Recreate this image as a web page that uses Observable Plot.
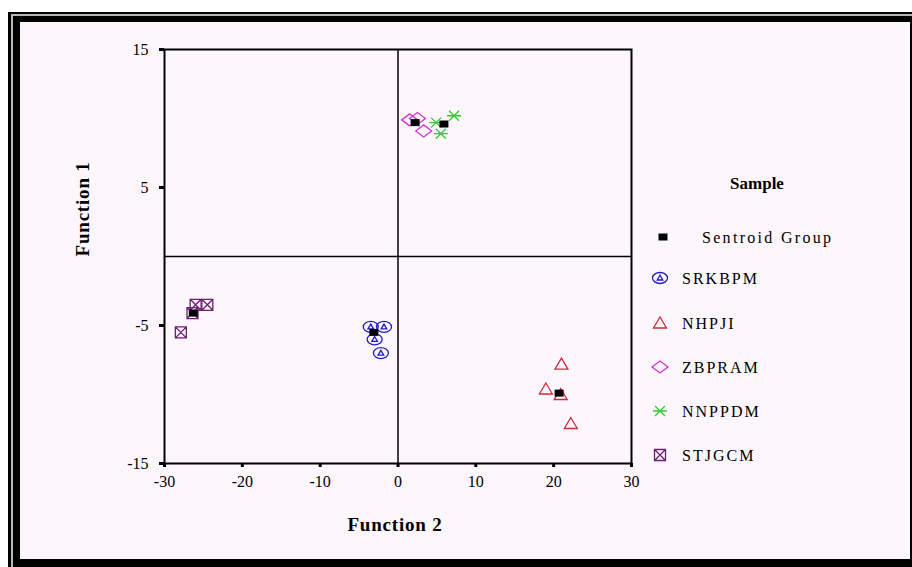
<!DOCTYPE html>
<html>
<head>
<meta charset="utf-8">
<script src="https://cdn.jsdelivr.net/npm/d3@7"></script>
<script src="https://cdn.jsdelivr.net/npm/@observablehq/plot@0.6"></script>
<style>
  body { margin: 0; background: #fff; }
  #wrap { position: relative; width: 912px; height: 567px; overflow: hidden; }
  #frame { position: absolute; left: 8px; top: 12px; width: 904px; height: 555px; background: #000; }
  #frame .stripe { position: absolute; left: 3px; top: 2px; right: 0; bottom: 0; border-left: 2px solid #b8b8b8; border-top: 2px solid #b8b8b8; }
  #inner { position: absolute; left: 12px; top: 10px; right: 2px; bottom: 8px; background: #fdf6fd; }
  #chart { position: absolute; left: 0; top: 0; }
</style>
</head>
<body>
<div id="wrap">
  <div id="frame"><div class="stripe"></div><div id="inner"></div></div>
  <div id="chart"></div>
</div>
<script>
// Discriminant scores: Function 2 on x, Function 1 on y
const groups = ["SRKBPM", "NHPJI", "ZBPRAM", "NNPPDM", "STJGCM"];
const groupColors = ["#1f1fc4", "#d42a3a", "#cc38cc", "#33cc33", "#6e1f72"];

const srkbpmF2 = [-3.5, -1.8, -3.0, -2.2];
const srkbpmF1 = [-5.1, -5.1, -6.0, -7.0];
const nhpjiF2 = [21.0, 19.0, 22.2, 20.9];
const nhpjiF1 = [-7.8, -9.6, -12.1, -10.0];
const zbpramF2 = [1.5, 2.5, 3.3];
const zbpramF1 = [9.9, 10.0, 9.1];
const nnppdmF2 = [4.9, 7.2, 5.5];
const nnppdmF1 = [9.7, 10.2, 8.9];
const stjgcmF2 = [-26.0, -24.5, -27.9, -26.4];
const stjgcmF1 = [-3.5, -3.5, -5.5, -4.1];

// Group centroids, same order as groups
const centroidF2 = [-3.1, 20.7, 2.2, 5.9, -26.3];
const centroidF1 = [-5.5, -9.9, 9.7, 9.6, -4.1];

const xTicks = [-30, -20, -10, 0, 10, 20, 30];
const yTicks = [15, 5, -5, -15];
const centroidLabel = "Sentroid Group";

const groupF2 = [srkbpmF2, nhpjiF2, zbpramF2, nnppdmF2, stjgcmF2];
const groupF1 = [srkbpmF1, nhpjiF1, zbpramF1, nnppdmF1, stjgcmF1];

// Custom marker shapes (size argument ignored; fixed pixel dimensions)
const K = 0.5523;
function ellipse(c, rx, ry) {
  c.moveTo(rx, 0);
  c.bezierCurveTo(rx, ry * K, rx * K, ry, 0, ry);
  c.bezierCurveTo(-rx * K, ry, -rx, ry * K, -rx, 0);
  c.bezierCurveTo(-rx, -ry * K, -rx * K, -ry, 0, -ry);
  c.bezierCurveTo(rx * K, -ry, rx, -ry * K, rx, 0);
  c.closePath();
}
const symOvalTri = { draw(c) {
  ellipse(c, 7.5, 5.5);
  c.moveTo(0, -2.8); c.lineTo(2.8, 2); c.lineTo(-2.8, 2); c.closePath();
}};
const symTriangle = { draw(c) {
  c.moveTo(0, -6); c.lineTo(6.5, 5); c.lineTo(-6.5, 5); c.closePath();
}};
const symDiamond = { draw(c) {
  c.moveTo(-8, 0); c.lineTo(0, -6); c.lineTo(8, 0); c.lineTo(0, 6); c.closePath();
}};
const symStar = { draw(c) {
  c.moveTo(-7, 0); c.lineTo(7, 0);
  c.moveTo(-5, -5); c.lineTo(5, 5);
  c.moveTo(-5, 5); c.lineTo(5, -5);
}};
const symBoxX = { draw(c) {
  c.rect(-5.5, -5.5, 11, 11);
  c.moveTo(-5.5, -5.5); c.lineTo(5.5, 5.5);
  c.moveTo(-5.5, 5.5); c.lineTo(5.5, -5.5);
}};
const symBlock = { draw(c) { c.rect(-4.5, -3.5, 9, 7); } };
const groupSymbols = [symOvalTri, symTriangle, symDiamond, symStar, symBoxX];

const pointMarks = groups.map((g, i) => {
  const rows = groupF2[i].map((v, j) => ({ f2: v, f1: groupF1[i][j] }));
  return Plot.dot(rows, {
    x: "f2", y: "f1", symbol: groupSymbols[i], r: 6,
    fill: "none", stroke: groupColors[i], strokeWidth: 1.3
  });
});
const centroids = groups.map((g, i) => ({ group: g, f2: centroidF2[i], f1: centroidF1[i] }));

const serif = "'Liberation Serif', 'DejaVu Serif', serif";
const plainNumber = d => String(d);

const chart = Plot.plot({
  width: 912,
  height: 567,
  marginLeft: 164,
  marginRight: 281,
  marginTop: 49,
  marginBottom: 104,
  style: { background: "transparent", fontFamily: serif, fontSize: "16px", color: "#000" },
  x: { domain: [-30, 30] },
  y: { domain: [-15, 15] },
  marks: [
    Plot.ruleX([0], { stroke: "#000", strokeWidth: 1.5 }),
    Plot.ruleY([0], { stroke: "#000", strokeWidth: 1.5 }),
    Plot.frame({ stroke: "#000", strokeWidth: 2 }),
    Plot.axisX({ ticks: xTicks, tickFormat: plainNumber, tickSize: 4, strokeWidth: 3, tickPadding: 8, label: null, fontSize: 16 }),
    Plot.axisY({ ticks: yTicks, tickFormat: plainNumber, tickSize: 5, strokeWidth: 3, tickPadding: 11, label: null, fontSize: 16 }),
    ...pointMarks,
    Plot.dot(centroids, { x: "f2", y: "f1", symbol: symBlock, r: 4, fill: "#000", stroke: "none" }),
    Plot.text(["Function 2"], { frameAnchor: "bottom", dy: 67, fontSize: 19, fontWeight: "bold", dx: -3 }),
    Plot.text(["Function 1"], { frameAnchor: "left", dx: -82, rotate: -90, fontSize: 19, fontWeight: "bold" })
  ]
});
d3.select(chart).selectAll("text").filter(function () { return /^Function/.test(this.textContent); })
  .attr("letter-spacing", 0.8);

// Legend at the right of the plot
const svg = d3.select(chart);
const lg = svg.append("g").attr("font-family", serif).attr("fill", "#000");
lg.append("text").attr("x", 757).attr("y", 183).attr("text-anchor", "middle")
  .attr("dy", "0.35em").attr("font-size", 17).attr("font-weight", "bold").text("Sample");

const cItem = lg.append("g").attr("transform", "translate(0,237)");
cItem.append("path").attr("transform", "translate(663,0)").attr("d", d3.symbol(symBlock)()).attr("fill", "#000");
cItem.append("text").attr("x", 702).attr("dy", "0.35em").attr("font-size", 16)
  .attr("text-anchor", "start").attr("letter-spacing", 2.3).text(centroidLabel);

const legendY = [278, 323, 367, 411, 455];
groups.forEach((g, i) => {
  const item = lg.append("g").attr("transform", `translate(0,${legendY[i]})`);
  item.append("path").attr("transform", "translate(660,0)").attr("d", d3.symbol(groupSymbols[i])())
    .attr("fill", "none").attr("stroke", groupColors[i]).attr("stroke-width", 1.3);
  item.append("text").attr("x", 682).attr("dy", "0.35em").attr("font-size", 16)
    .attr("text-anchor", "start").attr("letter-spacing", 2).text(g);
});

document.getElementById("chart").appendChild(chart);
</script>
</body>
</html>
